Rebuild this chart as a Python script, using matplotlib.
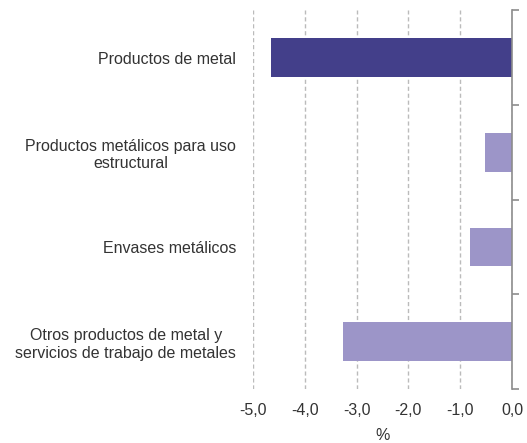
import matplotlib.pyplot as plt
import numpy as np

# datos
categorias = ["Productos de metal",
              "Productos metálicos para uso\nestructural",
              "Envases metálicos",
              "Otros productos de metal y\nservicios de trabajo de metales"]
valores = [-4.66, -0.53, -0.81, -3.27]
colores = ["#433F8A", "#9C95C8", "#9C95C8", "#9C95C8"]
xticks = [-5, -4, -3, -2, -1, 0]
xlabels = ["-5,0", "-4,0", "-3,0", "-2,0", "-1,0", "0,0"]

plt.rcParams['font.family'] = ['Liberation Sans', 'DejaVu Sans']
texto = "#333333"

fig = plt.figure(figsize=(5.27, 4.43), dpi=100)
ax = fig.add_axes([0.480, 0.122, 0.4915, 0.855])

y = np.arange(len(categorias))
ax.barh(y, valores, height=0.41, color=colores, zorder=3)

ax.set_xlim(-5, 0)
ax.set_ylim(len(categorias) - 0.5, -0.5)

ax.set_xticks(xticks)
ax.set_xticklabels(xlabels, fontsize=11.5, color=texto)
ax.tick_params(axis='x', length=0, pad=10)
ax.xaxis.grid(True, linestyle=(0, (3, 2)), color="#BBBBBB", linewidth=1, zorder=0)

ax.set_yticks(y)
ax.set_yticklabels(categorias, fontsize=11.5, color=texto, ha='right',
                   multialignment='center', linespacing=1.2)
ax.tick_params(axis='y', which='major', length=0, pad=12)
ax.set_yticks(np.arange(-0.5, len(categorias), 1), minor=True)
ax.tick_params(axis='y', which='minor', left=False, right=True, length=5,
               color="#8C8C8C", width=1.2)

for s in ["left", "top", "bottom"]:
    ax.spines[s].set_visible(False)
ax.spines["right"].set_color("#8C8C8C")
ax.spines["right"].set_linewidth(1.2)
ax.spines["right"].set_zorder(4)

ax.set_xlabel("%", fontsize=11.5, color=texto, labelpad=7)

fig.savefig("out.png", dpi=100)
